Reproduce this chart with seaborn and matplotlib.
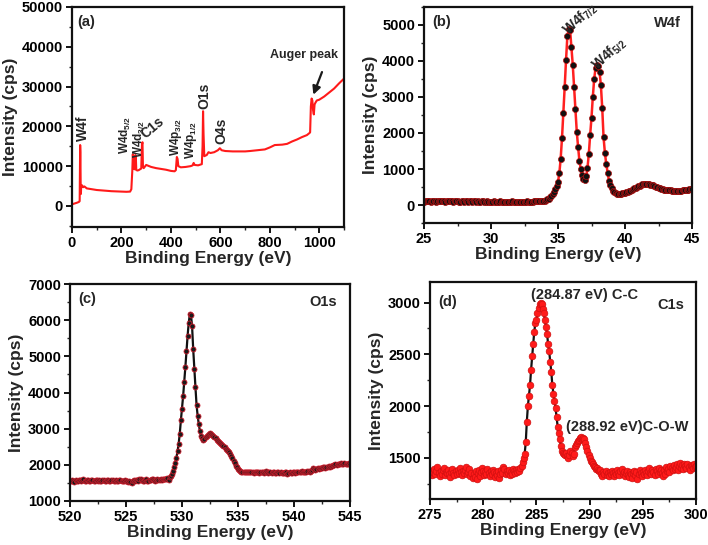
import matplotlib
matplotlib.use("Agg")
import numpy as np
import pandas as pd
import seaborn as sns
import matplotlib.pyplot as plt
from matplotlib.ticker import MultipleLocator

# ---------------- data ----------------
# (a) survey spectrum: binding energy (eV) and intensity (cps)
a_energy = [0, 10, 20, 28, 31, 33, 34, 35, 36, 37, 40, 45, 50, 60, 80, 100, 120, 140, 160,
            180, 200, 220, 235, 240, 244, 246, 248, 250, 253, 256, 258, 260, 265, 270, 275,
            280, 283, 285, 287, 290, 300, 320, 340, 360, 380, 400, 415, 420, 424, 427, 430,
            440, 460, 480, 488, 492, 496, 510, 525, 528, 530, 532, 535, 545, 552, 560, 575,
            590, 598, 605, 620, 650, 680, 700, 720, 750, 780, 800, 820, 850, 870, 890, 910,
            930, 950, 960, 963, 966, 969, 972, 975, 978, 981, 985, 990, 1000, 1020, 1040,
            1060, 1080, 1100]
a_counts = [400, 600, 800, 1000, 1200, 15300, 13500, 6000, 3000, 4800, 5200, 4700, 4900, 4400,
            4200, 4000, 3900, 3800, 3700, 3650, 3600, 3550, 3600, 4200, 9000, 13000, 11000,
            9500, 9200, 12800, 12500, 9000, 8900, 9000, 9200, 9400, 15500, 16000, 9800, 9500,
            10300, 9800, 9500, 9300, 9100, 8800, 8700, 9000, 12300, 11800, 10000, 9700, 9800,
            10000, 10200, 10800, 10300, 10200, 10500, 15000, 23800, 18000, 12500, 12800,
            13500, 13300, 13500, 14000, 14500, 14000, 13800, 13700, 13700, 13700, 13800,
            14000, 14200, 14700, 15300, 15400, 15600, 16200, 16700, 17300, 17800, 18300,
            18500, 25000, 27000, 26500, 24000, 23000, 25500, 26000, 26500, 26700, 27500,
            28500, 29500, 30800, 32000]

# (b) W4f region, 25.0 - 45.0 eV in 0.1 eV steps
b_range = (25.0, 45.0)
b_counts = [95, 100, 98, 105, 102, 96, 100, 104, 99, 97,
            102, 106, 100, 98, 103, 101, 97, 99, 104, 100,
            98, 101, 96, 99, 102, 100, 97, 95, 99, 101,
            97, 100, 98, 96, 101, 99, 95, 98, 100, 97,
            99, 96, 94, 98, 100, 97, 95, 99, 96, 94,
            97, 95, 99, 96, 93, 97, 94, 98, 95, 96,
            93, 97, 95, 92, 96, 94, 98, 95, 93, 97,
            95, 92, 96, 94, 97, 93, 95, 98, 94, 96,
            97, 95, 99, 102, 100, 105, 108, 112, 115, 118,
            120, 135, 155, 180, 215, 255, 300, 360, 440, 540,
            650, 880, 1290, 1870, 2550, 3280, 4030, 4700, 4880, 4870,
            4390, 3900, 3290, 2660, 2040, 1610, 1220, 1000, 820, 720,
            700, 800, 1030, 1420, 1950, 2430, 3010, 3500, 3800, 3880,
            3850, 3700, 3330, 2700, 1880, 1450, 1140, 900, 680, 550,
            460, 400, 360, 330, 315, 305, 305, 310, 320, 330,
            345, 355, 370, 385, 400, 420, 440, 460, 480, 500,
            520, 540, 555, 570, 580, 585, 585, 580, 575, 565,
            555, 545, 530, 510, 490, 475, 460, 450, 440, 430,
            425, 420, 415, 410, 405, 400, 395, 390, 385, 380,
            380, 385, 395, 405, 415, 425, 430, 430, 435, 435,
            435]

# (c) O1s region, 520.0 - 545.0 eV in 0.1 eV steps
c_range = (520.0, 545.0)
c_counts = [1560, 1540, 1570, 1550, 1530, 1580, 1560, 1550, 1590, 1570,
            1550, 1580, 1600, 1560, 1540, 1570, 1590, 1550, 1560, 1580,
            1570, 1540, 1560, 1590, 1570, 1550, 1580, 1560, 1540, 1570,
            1590, 1560, 1550, 1580, 1570, 1540, 1560, 1590, 1570, 1550,
            1560, 1580, 1550, 1540, 1570, 1590, 1560, 1540, 1550, 1570,
            1560, 1540, 1530, 1550, 1520, 1500, 1540, 1570, 1560, 1590,
            1580, 1560, 1600, 1620, 1590, 1560, 1540, 1570, 1600, 1560,
            1540, 1570, 1590, 1620, 1610, 1580, 1560, 1570, 1600, 1590,
            1580, 1600, 1590, 1610, 1620, 1600, 1610, 1640, 1580, 1660,
            1700, 1760, 1840, 1950, 2060, 2200, 2370, 2580, 2860, 3230,
            3550, 3900, 4300, 4700, 5150, 5570, 5920, 6170, 6150, 5830,
            5200, 4650, 4150, 3650, 3350, 3120, 2930, 2800, 2740, 2700,
            2720, 2760, 2790, 2820, 2850, 2870, 2860, 2830, 2800, 2770,
            2740, 2700, 2670, 2640, 2610, 2580, 2550, 2520, 2490, 2450,
            2420, 2390, 2350, 2310, 2250, 2180, 2110, 2040, 1980, 1930,
            1890, 1860, 1830, 1810, 1800, 1790, 1810, 1800, 1790, 1810,
            1800, 1790, 1810, 1800, 1780, 1790, 1810, 1800, 1790, 1780,
            1800, 1810, 1790, 1780, 1800, 1820, 1790, 1780, 1800, 1790,
            1780, 1790, 1800, 1780, 1770, 1790, 1800, 1780, 1790, 1770,
            1780, 1770, 1790, 1800, 1760, 1780, 1790, 1770, 1780, 1800,
            1790, 1780, 1800, 1790, 1810, 1790, 1800, 1820, 1800, 1790,
            1810, 1800, 1820, 1830, 1810, 1840, 1870, 1900, 1880, 1860,
            1880, 1900, 1890, 1910, 1920, 1900, 1930, 1940, 1920, 1950,
            1940, 1960, 1950, 1980, 1970, 1990, 2000, 2010, 1990, 2020,
            2010, 2030, 2040, 2020, 2030, 2040, 2030, 2020, 2030, 2040,
            2030]

# (d) C1s region, 275.0 - 300.0 eV in 0.1 eV steps
d_range = (275.0, 300.0)
d_counts = [1350, 1370, 1330, 1360, 1390, 1340, 1370, 1410, 1350, 1320,
            1370, 1340, 1380, 1400, 1330, 1360, 1350, 1380, 1340, 1310,
            1360, 1390, 1350, 1330, 1370, 1340, 1380, 1350, 1400, 1360,
            1330, 1370, 1350, 1380, 1410, 1340, 1360, 1390, 1320, 1350,
            1300, 1340, 1310, 1370, 1290, 1350, 1380, 1320, 1360, 1400,
            1370, 1330, 1360, 1340, 1390, 1350, 1320, 1370, 1340, 1380,
            1360, 1310, 1350, 1330, 1370, 1300, 1340, 1380, 1350, 1410,
            1390, 1340, 1370, 1350, 1380, 1330, 1360, 1340, 1390, 1370,
            1350, 1380, 1360, 1390, 1370, 1400, 1420, 1460, 1500, 1540,
            1650, 1850, 2000, 2100, 2200, 2350, 2480, 2600, 2720, 2800,
            2830, 2900, 2950, 2990, 2995, 2990, 2940, 2900, 2830, 2760,
            2700, 2600, 2530, 2430, 2330, 2200, 2120, 2050, 1980, 1890,
            1800, 1740, 1680, 1610, 1560, 1550, 1540, 1530, 1550, 1520,
            1500, 1530, 1560, 1550, 1520, 1540, 1600, 1620, 1640, 1660,
            1670, 1690, 1700, 1680, 1690, 1680, 1640, 1600, 1560, 1530,
            1500, 1470, 1460, 1440, 1420, 1410, 1390, 1400, 1380, 1370,
            1380, 1340, 1320, 1360, 1340, 1370, 1330, 1350, 1320, 1360,
            1340, 1370, 1350, 1320, 1360, 1340, 1380, 1350, 1330, 1370,
            1390, 1340, 1360, 1320, 1350, 1370, 1330, 1310, 1360, 1340,
            1300, 1350, 1370, 1330, 1360, 1290, 1340, 1380, 1350, 1320,
            1360, 1340, 1380, 1350, 1330, 1370, 1400, 1350, 1340, 1380,
            1360, 1330, 1390, 1370, 1340, 1400, 1360, 1380, 1350, 1320,
            1380, 1340, 1410, 1370, 1390, 1360, 1420, 1400, 1380, 1430,
            1390, 1410, 1440, 1380, 1420, 1450, 1400, 1430, 1390, 1440,
            1420, 1400, 1440, 1410, 1380, 1430, 1420, 1400, 1440, 1410,
            1420]

# peak annotations for the survey panel: (label, energy, intensity, rotation, size)
a_labels = [("W4f", 46, 16300, 90, 10),
            (r"W4d$_{5/2}$", 215, 13000, 90, 8.5),
            (r"W4d$_{3/2}$", 273, 12000, 90, 8.5),
            ("C1s", 306, 16200, 40, 10),
            (r"W4p$_{3/2}$", 421, 12500, 90, 8.5),
            (r"W4p$_{1/2}$", 480, 11800, 90, 8.5),
            ("O1s", 534, 24300, 90, 10),
            ("O4s", 605, 15500, 90, 10)]

# ---------------- style ----------------
sns.set_style("ticks")
plt.rcParams["font.family"] = ["Liberation Sans", "DejaVu Sans"]
plt.rcParams["font.weight"] = "bold"
plt.rcParams["axes.labelweight"] = "bold"
plt.rcParams["mathtext.fontset"] = "custom"
plt.rcParams["mathtext.rm"] = "Liberation Sans:bold"
plt.rcParams["mathtext.bf"] = "Liberation Sans:bold"
plt.rcParams["mathtext.it"] = "Liberation Sans:bold"
plt.rcParams["mathtext.default"] = "bf"

W, H = 708, 545
fig = plt.figure(figsize=(W / 100, H / 100), dpi=100)


def make_ax(l, r, t, b):
    return fig.add_axes([l / W, 1 - b / H, (r - l) / W, (b - t) / H])


ax_a = make_ax(72, 344, 7, 227)
ax_b = make_ax(424, 692, 7, 223)
ax_c = make_ax(70, 350, 284, 501)
ax_d = make_ax(430, 696, 282, 499)


def style(ax, xlim, ylim, xmaj, ymaj, yticks):
    ax.set_xlim(*xlim)
    ax.set_ylim(*ylim)
    ax.xaxis.set_major_locator(MultipleLocator(xmaj))
    ax.xaxis.set_minor_locator(MultipleLocator(xmaj / 2))
    ax.set_yticks(yticks)
    ax.yaxis.set_minor_locator(MultipleLocator(ymaj / 2))
    ax.tick_params(which="major", direction="out", length=4, width=1.3,
                   labelsize=10.5, pad=2.5, colors="black")
    ax.tick_params(which="minor", direction="out", length=2.5, width=1.0)
    for lab in ax.get_xticklabels() + ax.get_yticklabels():
        lab.set_fontweight("bold")
    for s in ax.spines.values():
        s.set_linewidth(1.6)
        s.set_color("#111111")
        s.set_visible(True)
    ax.set_xlabel("Binding Energy (eV)", fontsize=12.5, fontweight="bold", labelpad=1)
    ax.set_ylabel("Intensity (cps)", fontsize=12.5, fontweight="bold", labelpad=3)


# (a)
sns.lineplot(x=a_energy, y=a_counts, ax=ax_a, color="#ff1a1a", linewidth=1.5,
             estimator=None, sort=False)
style(ax_a, (0, 1100), (-5300, 50000), 200, 10000, list(range(0, 50001, 10000)))
for lab, x, y, rot, fs in a_labels:
    if rot == 90:
        ax_a.text(x, y, lab, rotation=90, ha="center", va="bottom", fontsize=fs,
                  fontweight="bold")
    else:
        ax_a.text(x, y, lab, rotation=rot, ha="left", va="bottom", fontsize=fs,
                  fontweight="bold", rotation_mode="anchor")
ax_a.text(0.018, 0.93, "(a)", transform=ax_a.transAxes, fontsize=10.5,
          fontweight="bold", ha="left", va="center")
ax_a.annotate("Auger peak", xy=(972, 27300), xytext=(940, 37900), fontsize=9,
              fontweight="bold", ha="center", va="center")
ax_a.annotate("", xy=(972, 27300), xytext=(1015, 34300),
              arrowprops=dict(arrowstyle="-|>", color="#1a1a1a", lw=1.6,
                              mutation_scale=12))

# (b)
b_energy = np.linspace(b_range[0], b_range[1], len(b_counts))
sns.lineplot(x=b_energy, y=b_counts, ax=ax_b, color="#ff2020", linewidth=1.8,
             marker="o", markersize=4.4, markerfacecolor="#111111",
             markeredgecolor="#b01010", markeredgewidth=0.5, estimator=None)
style(ax_b, (25, 45), (-500, 5500), 5, 1000, list(range(0, 5001, 1000)))
ax_b.text(0.03, 0.93, "(b)", transform=ax_b.transAxes, fontsize=10.5,
          fontweight="bold", ha="left", va="center")
ax_b.text(0.91, 0.925, "W4f", transform=ax_b.transAxes, fontsize=10.5,
          fontweight="bold", ha="center", va="center")
ax_b.text(36.0, 4600, r"W4f$_{7/2}$", rotation=42, fontsize=10, ha="left",
          va="bottom", rotation_mode="anchor")
ax_b.text(38.1, 3650, r"W4f$_{5/2}$", rotation=42, fontsize=10, ha="left",
          va="bottom", rotation_mode="anchor")

# (c)
c_energy = np.linspace(c_range[0], c_range[1], len(c_counts))
sns.lineplot(x=c_energy, y=c_counts, ax=ax_c, color="#111111", linewidth=1.6,
             marker="o", markersize=3.6, markerfacecolor="#1a1a1a",
             markeredgecolor="#cc1a2a", markeredgewidth=0.6, estimator=None)
style(ax_c, (520, 545), (1000, 7000), 5, 1000, list(range(1000, 7001, 1000)))
ax_c.text(0.03, 0.93, "(c)", transform=ax_c.transAxes, fontsize=10.5,
          fontweight="bold", ha="left", va="center")
ax_c.text(0.905, 0.917, "O1s", transform=ax_c.transAxes, fontsize=10.5,
          fontweight="bold", ha="center", va="center")

# (d)
d_energy = np.linspace(d_range[0], d_range[1], len(d_counts))
sns.lineplot(x=d_energy, y=d_counts, ax=ax_d, color="#111111", linewidth=1.6,
             marker="o", markersize=4.8, markerfacecolor="#ff1a1a",
             markeredgecolor="#d01010", markeredgewidth=0.5, estimator=None)
style(ax_d, (275, 300), (1100, 3200), 5, 500, list(range(1500, 3001, 500)))
ax_d.text(0.03, 0.908, "(d)", transform=ax_d.transAxes, fontsize=10.5,
          fontweight="bold", ha="left", va="center")
ax_d.text(0.905, 0.894, "C1s", transform=ax_d.transAxes, fontsize=10.5,
          fontweight="bold", ha="center", va="center")
ax_d.text(284.5, 3075, "(284.87 eV) C-C", fontsize=10.5, fontweight="bold",
          ha="left", va="center")
ax_d.text(287.8, 1796, "(288.92 eV)C-O-W", fontsize=10.5, fontweight="bold",
          ha="left", va="center")

fig.savefig("out.png", dpi=100, facecolor="white")
